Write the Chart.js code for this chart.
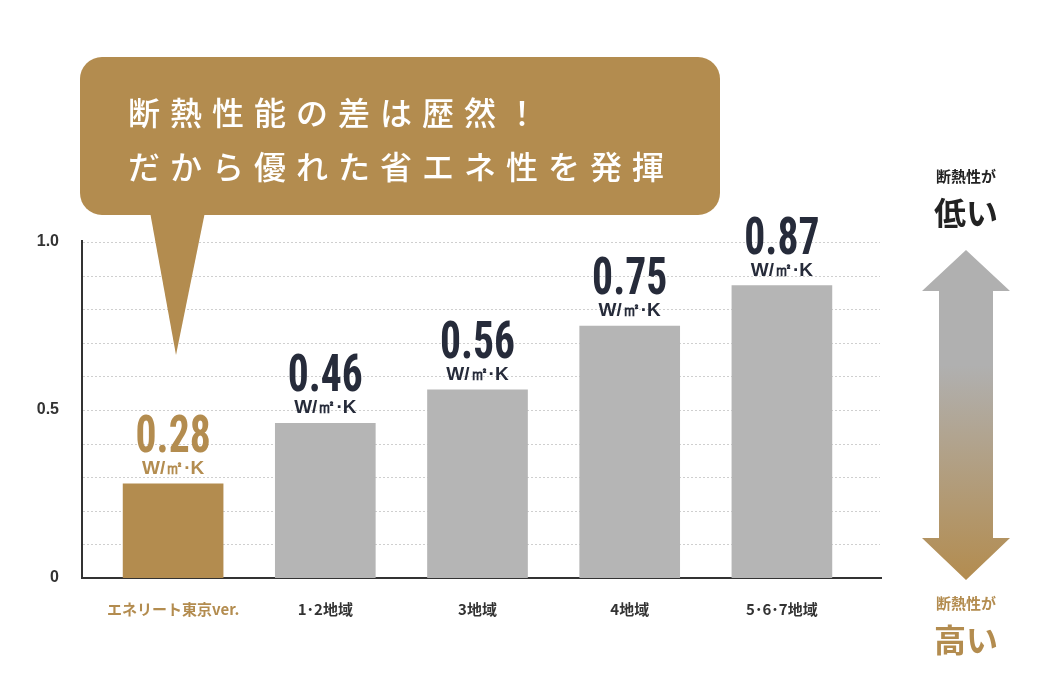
<!DOCTYPE html>
<html><head><meta charset="utf-8">
<script src="https://cdn.jsdelivr.net/npm/chart.js@4"></script>
<style>html,body{margin:0;padding:0;background:#fff}#w{width:1040px;height:680px}</style>
</head><body><div id="w"><canvas id="c"></canvas></div>
<script>
const categories = ["エネリート東京ver.", "1･2地域", "3地域", "4地域", "5･6･7地域"];
const values = [0.28, 0.46, 0.56, 0.75, 0.87];
const unitLabel = "W/㎡·K";
const tickLabels = { "0": "0", "0.5": "0.5", "1": "1.0" };
const GOLD = "#b38c4f", GRAY = "#b5b5b5", NAVY = "#262b3a";
const JP = "'Noto Sans CJK JP', sans-serif";

const deco = {
  id: "deco",
  beforeDatasetsDraw(ch) {
    const c = ch.ctx, y = ch.scales.y;
    c.save();
    c.strokeStyle = "#cfcfcf"; c.lineWidth = 1; c.setLineDash([2, 2]);
    for (let v = 0.1; v <= 1.001; v += 0.1) {
      const py = Math.round(y.getPixelForValue(v)) + 0.5;
      c.beginPath(); c.moveTo(83, py); c.lineTo(880, py); c.stroke();
    }
    c.setLineDash([]); c.strokeStyle = "#333"; c.lineWidth = 2;
    c.beginPath(); c.moveTo(82, 240); c.lineTo(82, 578); c.lineTo(882, 578); c.stroke();
    c.restore();
  },
  afterDatasetsDraw(ch) {
    const c = ch.ctx, meta = ch.getDatasetMeta(0);
    c.save(); c.textAlign = "center";
    meta.data.forEach((b, i) => {
      const col = i === 0 ? GOLD : NAVY;
      c.fillStyle = col;
      c.font = "bold 52px 'Roboto Condensed','Liberation Sans Narrow','DejaVu Sans Condensed',sans-serif";
      c.save(); c.translate(b.x, b.y - 32); c.scale(0.8, 1);
      c.fillText(values[i].toFixed(2), 0, 0); c.restore();
      c.font = "bold 19px 'Liberation Sans', sans-serif";
      c.fillText(unitLabel, b.x, b.y - 10);
    });
    // callout
    c.fillStyle = GOLD;
    c.beginPath();
    c.roundRect(80, 57, 640, 158, 22); c.fill();
    c.beginPath(); c.moveTo(150, 212); c.lineTo(176, 355); c.lineTo(205, 212); c.fill();
    c.fillStyle = "#fff"; c.textAlign = "left";
    c.font = "500 32px " + JP; c.letterSpacing = "10px";
    c.fillText("断熱性能の差は歴然！", 128, 125);
    c.fillText("だから優れた省エネ性を発揮", 128, 179);
    c.letterSpacing = "0px";
    // arrow
    const g = c.createLinearGradient(0, 250, 0, 580);
    g.addColorStop(0, "#b0b0b0"); g.addColorStop(0.35, "#b0b0b0"); g.addColorStop(1, GOLD);
    c.fillStyle = g;
    c.beginPath();
    c.moveTo(966, 250); c.lineTo(1010, 291); c.lineTo(993, 291); c.lineTo(993, 538);
    c.lineTo(1010, 538); c.lineTo(966, 580); c.lineTo(922, 538); c.lineTo(939, 538);
    c.lineTo(939, 291); c.lineTo(922, 291); c.closePath(); c.fill();
    c.textAlign = "center";
    c.fillStyle = "#222"; c.font = "bold 15px " + JP; c.fillText("断熱性が", 966, 182);
    c.font = "bold 32px " + JP; c.fillText("低い", 966, 225);
    c.fillStyle = GOLD; c.font = "bold 15px " + JP; c.fillText("断熱性が", 966, 609);
    c.font = "bold 32px " + JP; c.fillText("高い", 966, 652);
    c.restore();
  }
};

new Chart(document.getElementById("c"), {
  type: "bar",
  data: { labels: categories, datasets: [{ data: values,
    backgroundColor: values.map((v, i) => i === 0 ? GOLD : GRAY),
    barThickness: 100 }] },
  options: {
    responsive: true, maintainAspectRatio: false, animation: false,
    layout: { padding: { top: 242, right: 182, left: 0, bottom: 0 } },
    plugins: { legend: { display: false }, tooltip: { enabled: false } },
    scales: {
      x: { grid: { display: false }, border: { display: false },
        afterFit(s) { s.height = 102; },
        ticks: { padding: 14, font: { family: JP, size: 15, weight: "bold" },
          color: ctx => ctx.index === 0 ? GOLD : "#333" } },
      y: { min: 0, max: 1, grid: { display: false }, border: { display: false },
        afterFit(s) { s.width = 97; },
        ticks: { stepSize: 0.1, padding: 30, autoSkip: false,
          font: { family: "'Liberation Sans', sans-serif", size: 16, weight: "bold" }, color: "#333",
          callback: v => tickLabels[String(Math.round(v * 10) / 10)] ?? "" } }
    }
  },
  plugins: [deco]
});
</script></body></html>
